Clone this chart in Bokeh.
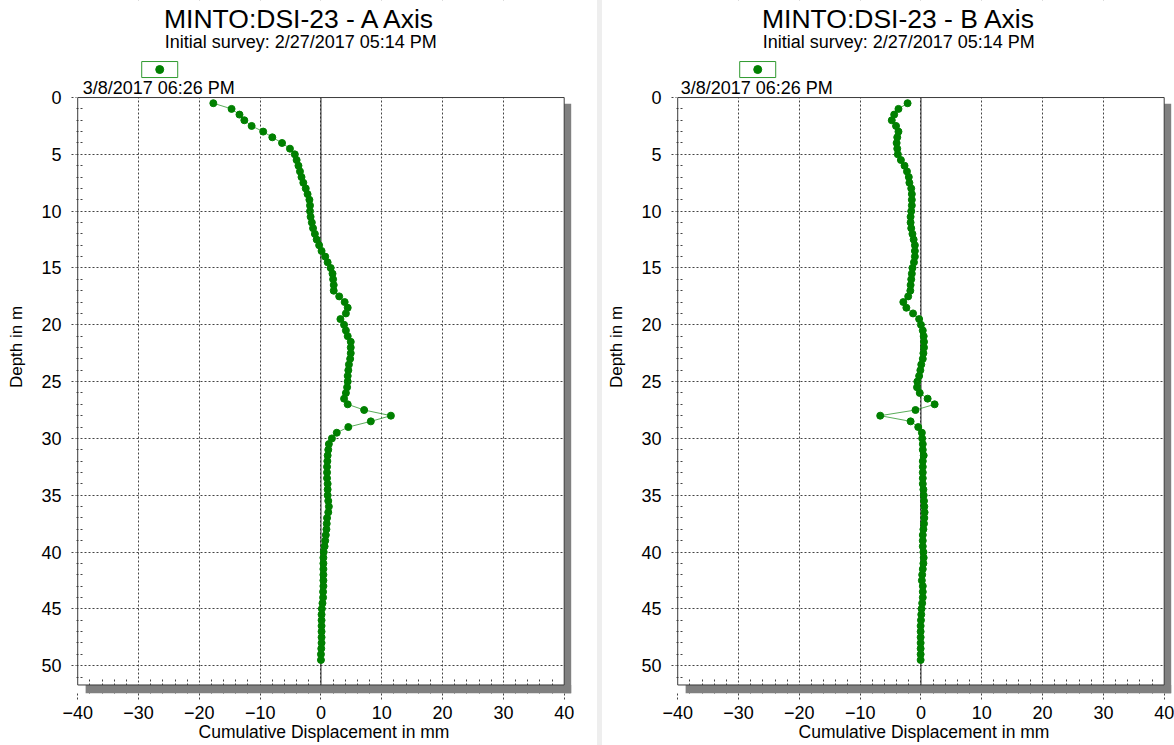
from bokeh.plotting import figure
from bokeh.models import Range1d, FixedTicker, Label, Spacer
from bokeh.layouts import row
from bokeh.embed import file_html
from bokeh.resources import INLINE

# ---- survey data -------------------------------------------------------
DEPTH_M = [
    0.5, 1.0, 1.5, 2.0, 2.5, 3.0, 3.5, 4.0, 4.5, 5.0,
    5.5, 6.0, 6.5, 7.0, 7.5, 8.0, 8.5, 9.0, 9.5, 10.0,
    10.5, 11.0, 11.5, 12.0, 12.5, 13.0, 13.5, 14.0, 14.5, 15.0,
    15.5, 16.0, 16.5, 17.0, 17.5, 18.0, 18.5, 19.0, 19.5, 20.0,
    20.5, 21.0, 21.5, 22.0, 22.5, 23.0, 23.5, 24.0, 24.5, 25.0,
    25.5, 26.0, 26.5, 27.0, 27.5, 28.0, 28.5, 29.0, 29.5, 30.0,
    30.5, 31.0, 31.5, 32.0, 32.5, 33.0, 33.5, 34.0, 34.5, 35.0,
    35.5, 36.0, 36.5, 37.0, 37.5, 38.0, 38.5, 39.0, 39.5, 40.0,
    40.5, 41.0, 41.5, 42.0, 42.5, 43.0, 43.5, 44.0, 44.5, 45.0,
    45.5, 46.0, 46.5, 47.0, 47.5, 48.0, 48.5, 49.0, 49.5,
]

A_AXIS_MM = [
    -17.7, -14.7, -13.4, -12.6, -11.4, -9.5, -8.0, -6.4, -5.1, -4.3,
    -4.0, -3.7, -3.45, -3.2, -2.9, -2.5, -2.2, -1.9, -1.8, -1.8,
    -1.7, -1.5, -1.3, -1.0, -0.7, -0.3, 0.1, 0.7, 1.1, 1.6,
    1.9, 2.0, 2.1, 2.1, 3.0, 3.9, 4.4, 4.1, 3.2, 3.8,
    4.1, 4.4, 4.9, 4.9, 4.9, 4.8, 4.6, 4.5, 4.4, 4.4,
    4.3, 4.1, 3.8, 4.4, 7.1, 11.5, 8.2, 4.5, 2.6, 1.8,
    1.3, 1.2, 1.1, 1.05, 1.0, 1.0, 1.0, 1.1, 1.1, 1.1,
    1.2, 1.3, 1.2, 1.0, 0.95, 0.9, 0.8, 0.7, 0.6, 0.45,
    0.4, 0.4, 0.4, 0.4, 0.4, 0.4, 0.35, 0.35, 0.25, 0.15,
    0.1, 0.1, 0.1, 0.1, 0.1, 0.1, 0.05, 0.0, 0.0,
]

B_AXIS_MM = [
    -2.2, -3.7, -4.4, -4.8, -4.1, -3.7, -3.9, -4.0, -3.9, -3.8,
    -3.3, -2.7, -2.3, -2.0, -1.9, -1.6, -1.5, -1.5, -1.5, -1.6,
    -1.7, -1.7, -1.6, -1.4, -1.2, -1.0, -1.0, -1.0, -1.15, -1.4,
    -1.5, -1.6, -1.7, -1.75, -2.1, -2.9, -2.4, -1.3, -0.3, 0.0,
    0.3, 0.45, 0.5, 0.5, 0.4, 0.3, 0.05, -0.1, -0.3, -0.6,
    -0.65, -0.2, 1.1, 2.25, -0.9, -6.7, -1.7, -0.45, 0.15, 0.2,
    0.3, 0.3, 0.45, 0.3, 0.3, 0.3, 0.3, 0.3, 0.4, 0.45,
    0.5, 0.55, 0.6, 0.55, 0.5, 0.4, 0.3, 0.3, 0.3, 0.4,
    0.45, 0.4, 0.3, 0.2, 0.15, 0.3, 0.3, 0.3, 0.2, 0.1,
    0.05, 0.0, -0.05, -0.05, -0.05, -0.05, -0.05, -0.05, -0.05,
]

SITE = "MINTO:DSI-23"
INITIAL_SURVEY = "Initial survey: 2/27/2017 05:14 PM"
SURVEY_DATE = "3/8/2017 06:26 PM"

X_TICKS = [-40, -30, -20, -10, 0, 10, 20, 30, 40]
X_MINOR = [v for v in range(-40, 41, 2) if v % 10]
Y_TICKS = [0, 5, 10, 15, 20, 25, 30, 35, 40, 45, 50]
Y_MINOR = [v for v in range(0, 52) if v % 5]

# ---- chart box geometry (data units) -----------------------------------
X_LO, X_HI = -40, 40
D_TOP, D_BOT = 0.0, 51.7
HEADER_M = 8.54       # heading band above the box, in depth units
SHADOW_DX = 1.15      # mm
SHADOW_DY = 0.72      # m
SHADOW_INSET_X = 1.3  # mm
SHADOW_INSET_Y = 0.55 # m

FONT = "Liberation Sans"
GREEN = "#008000"
GRID = "#444444"
FIG_H = 745
BORDER_BOTTOM = 52


def make_panel(axis_name, values, width, border_left, border_right, dx):
    x_range = Range1d(X_LO - 0.2, X_HI + SHADOW_DX + 0.05)
    y_range = Range1d(D_BOT + SHADOW_DY + 0.03, D_TOP - HEADER_M)
    p = figure(
        width=width, height=FIG_H, x_range=x_range, y_range=y_range,
        min_border_left=border_left, min_border_right=border_right,
        min_border_top=0, min_border_bottom=BORDER_BOTTOM,
        title=None, toolbar_location=None, output_backend="svg",
    )
    p.outline_line_color = None
    p.background_fill_color = "white"
    p.border_fill_color = "white"

    # pixel -> data conversion inside the frame
    mm_per_px = (x_range.end - x_range.start) / (width - border_left - border_right)
    m_per_px = (y_range.start - y_range.end) / (FIG_H - BORDER_BOTTOM)

    # grid
    p.xgrid.ticker = FixedTicker(ticks=X_TICKS[1:-1])
    p.ygrid.ticker = FixedTicker(ticks=Y_TICKS[1:])
    for g in (p.xgrid, p.ygrid):
        g.grid_line_color = GRID
        g.grid_line_dash = "2 2"
        g.grid_line_width = 1

    # axes
    xa, ya = p.xaxis[0], p.yaxis[0]
    xa.ticker = FixedTicker(ticks=X_TICKS, minor_ticks=X_MINOR)
    ya.ticker = FixedTicker(ticks=Y_TICKS, minor_ticks=Y_MINOR)
    xa.axis_label = "Cumulative Displacement in mm"
    ya.axis_label = "Depth in m"
    for ax in (xa, ya):
        ax.axis_line_color = None
        ax.major_tick_in = 0
        ax.minor_tick_out = 0
        ax.major_tick_line_color = GRID
        ax.minor_tick_line_color = GRID
        ax.major_tick_line_dash = "2 2"
        ax.minor_tick_line_dash = "2 2"
        ax.major_label_text_font = FONT
        ax.major_label_text_font_size = "18px"
        ax.major_label_text_color = "black"
        ax.axis_label_text_font = FONT
        ax.axis_label_text_font_style = "normal"
        ax.axis_label_text_color = "black"
    xa.axis_label_text_font_size = "17.5px"
    ya.axis_label_text_font_size = "17px"
    xa.major_tick_out = 6
    xa.minor_tick_in = 16
    xa.major_label_standoff = 6
    xa.axis_label_standoff = 0
    ya.major_tick_out = 5
    ya.minor_tick_in = 6
    ya.major_label_standoff = 10
    ya.axis_label_standoff = 12

    # heading band: hide the grid above the box
    p.quad(left=[x_range.start], right=[x_range.end], top=[y_range.end], bottom=[D_TOP],
           fill_color="white", line_color=None)

    # zero reference line
    p.segment(x0=[0], y0=[D_TOP], x1=[0], y1=[D_BOT], line_color="#222222", line_width=1)

    # profile
    p.line(values, DEPTH_M, line_color=GREEN, line_width=1, line_alpha=0.65)
    p.scatter(values, DEPTH_M, size=7, fill_color=GREEN, line_color=GREEN)

    # drop shadow and box
    p.quad(
        left=[X_HI, X_LO + SHADOW_INSET_X],
        right=[X_HI + SHADOW_DX, X_HI + SHADOW_DX],
        top=[D_TOP + SHADOW_INSET_Y, D_BOT],
        bottom=[D_BOT + SHADOW_DY, D_BOT + SHADOW_DY],
        fill_color="#808080", line_color=None, level="overlay",
    )
    p.quad(left=[X_LO], right=[X_HI], top=[D_TOP], bottom=[D_BOT],
           fill_color=None, line_color="#3a3a3a", line_width=1, level="overlay")

    # legend swatch above the box (pixel offsets from its upper-left corner)
    def px_x(px):
        return X_LO + (px + dx) * mm_per_px

    def px_y(px):
        return D_TOP - px * m_per_px

    p.quad(left=[px_x(64)], right=[px_x(100)], top=[px_y(36)], bottom=[px_y(20)],
           fill_color="white", line_color="#2f9a2f", line_width=1)
    p.scatter([px_x(82)], [px_y(28)], size=8, fill_color=GREEN, line_color=GREEN)

    # headings, offset in pixels from the box's upper-left corner
    def heading(text, x_off, y_off, size, align="center"):
        p.add_layout(Label(x=X_LO, y=D_TOP, x_offset=x_off + dx, y_offset=y_off,
                           text=text, text_font=FONT, text_font_size=size,
                           text_align=align, text_baseline="middle",
                           text_color="black"))

    heading(f"{SITE} - {axis_name} Axis", 223, 79, "26.5px")
    heading(INITIAL_SURVEY, 223, 56, "18px")
    heading(SURVEY_DATE, 5, 10, "18px", align="left")
    return p


left = make_panel("A", A_AXIS_MM, 597, 76, 26, 0)
right = make_panel("B", B_AXIS_MM, 572, 74, 3, -2)
sep = Spacer(width=5, height=FIG_H, styles={"background-color": "#eeeeee"})

layout = row(left, sep, right)
open("out.html", "w").write(file_html(layout, INLINE))
